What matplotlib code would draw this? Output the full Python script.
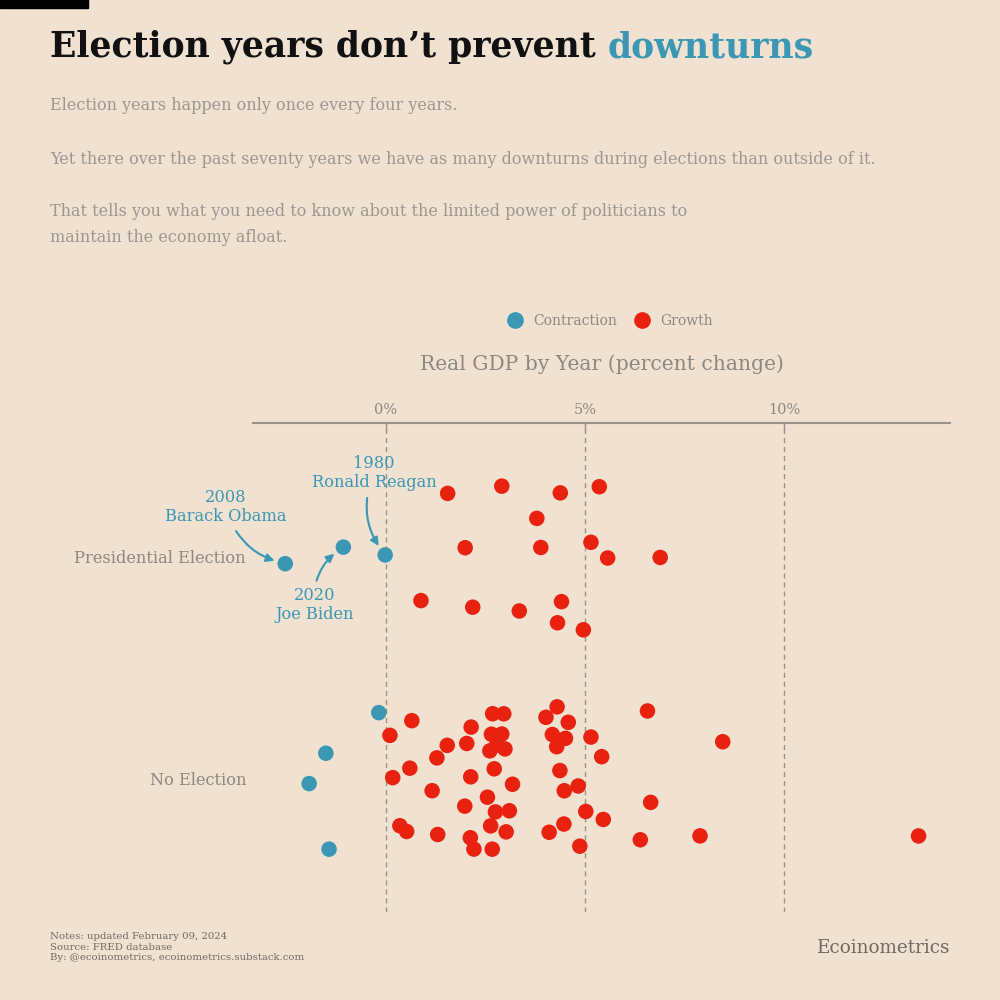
import numpy as np
import matplotlib.pyplot as plt
from matplotlib.lines import Line2D

# Real GDP growth (percent change)
pres_growth = [-2.53, -1.07, -0.02, 4.96, 3.89, 2.18, 4.38, 1.55, 3.35, 5.36,
               6.89, 1.99, 4.41, 0.88, 3.79, 5.57, 2.91, 4.31, 5.15]
noelec_growth = [-1.93, -1.43, -1.51, -0.18, 0.35, 0.10, 0.60, 0.17, 0.65, 0.52,
                 1.16, 1.30, 1.54, 1.28, 2.63, 2.96, 2.72, 1.98, 2.14, 2.78,
                 3.18, 2.55, 2.67, 2.12, 3.02, 2.91, 2.61, 2.68, 3.10, 2.13,
                 2.21, 2.03, 2.75, 2.65, 2.99, 4.29, 4.48, 4.87, 4.58, 4.10,
                 4.37, 5.46, 5.15, 4.83, 5.42, 4.18, 4.47, 4.02, 4.51, 5.02,
                 4.30, 6.57, 6.65, 6.39, 7.89, 8.46, 13.38]
categories = ['Presidential Election', 'No Election']
ticks = [0, 5, 10]
# index in pres_growth -> label
pres_labels = {0: '2008\nBarack Obama', 1: '2020\nJoe Biden', 2: '1980\nRonald Reagan'}

BG = '#f0e1d0'
TEAL = '#3b97b3'
RED = '#e8220e'
GREY = '#8e8882'
LIGHTGREY = '#9d9791'

plt.rcParams['font.family'] = ['DejaVu Serif']

fig = plt.figure(figsize=(10, 10), dpi=100, facecolor=BG)
ax = fig.add_axes([0.253, 0.088, 0.697, 0.489])
ax.set_facecolor(BG)
ax.set_xlim(-3.34, 14.17)
ax.set_ylim(1.606, -0.606)


def spread_jitter(vals, width=0.33, k=3, seed=3, narrow=()):
    # jitter that tries a few candidates and keeps the least crowded one
    rng = np.random.default_rng(seed)
    px_x, px_y = 39.8, 221.0
    placed = []
    out = []
    for j, v in enumerate(vals):
        w = 0.05 if j in narrow else width
        cands = rng.uniform(-w, w, k)
        if placed:
            p = np.array(placed)
            d = [np.min(np.hypot((p[:, 0] - v) * px_x, (p[:, 1] - c) * px_y)) for c in cands]
            c = cands[int(np.argmax(d))]
        else:
            c = cands[0]
        placed.append((v, c))
        out.append(c)
    return np.array(out)


pts = {}
for i, vals in enumerate([pres_growth, noelec_growth]):
    vals = np.array(vals)
    narrow = pres_labels.keys() if i == 0 else ()
    yy = i + spread_jitter(vals, seed=5 + i, narrow=narrow)
    cols = np.where(vals < 0, TEAL, RED)
    ax.scatter(vals, yy, s=125, c=cols, edgecolors='none', zorder=3)
    pts[i] = (vals, yy)

ax.xaxis.tick_top()
ax.set_xticks(ticks, [f'{t}%' for t in ticks])
ax.tick_params(axis='x', direction='in', length=5, width=1, color='#9b938b',
               labelsize=10.5, labelcolor=GREY, pad=4)
ax.set_yticks([0, 1], categories)
ax.tick_params(axis='y', length=0, pad=5, labelsize=11.7, labelcolor=GREY)
ax.grid(axis='x', color='#9b938b', linestyle=(0, (3.6, 2.9)), linewidth=1, zorder=1)

for s in ['left', 'right', 'bottom']:
    ax.spines[s].set_visible(False)
ax.spines['top'].set_color('#9b938b')
ax.spines['top'].set_linewidth(1.5)

# annotations for the election-year contractions
text_off = {0: (-43, 41), 1: (-21, -42), 2: (-8, 59)}
rads = {0: 0.3, 1: -0.3, 2: 0.3}
vals, yy = pts[0]
for idx, lab in pres_labels.items():
    ax.annotate(lab, xy=(vals[idx], yy[idx]), xytext=text_off[idx],
                textcoords='offset points',
                ha='center', va='center', color=TEAL, fontsize=11.7,
                linespacing=1.15, annotation_clip=False,
                arrowprops=dict(arrowstyle='-|>', color=TEAL, lw=1.5,
                                mutation_scale=12, shrinkA=3, shrinkB=8,
                                connectionstyle=f'arc3,rad={rads[idx]}'))

# legend
handles = [Line2D([], [], marker='o', ls='', color=TEAL, markersize=11, label='Contraction'),
           Line2D([], [], marker='o', ls='', color=RED, markersize=11, label='Growth')]
fig.legend(handles=handles, loc='center', bbox_to_anchor=(0.607, 0.679), ncol=2,
           frameon=False, fontsize=10, labelcolor=GREY, handletextpad=0.3,
           columnspacing=0.8)

fig.text(0.602, 0.636, 'Real GDP by Year (percent change)', ha='center', va='center',
         fontsize=14.6, color=GREY)

# title in two colours
fig.canvas.draw()
renderer = fig.canvas.get_renderer()
t1 = fig.text(0.05, 0.953, 'Election years don’t prevent ', fontsize=24.9,
              fontweight='bold', color='#111111', va='center', ha='left')
bb = t1.get_window_extent(renderer)
fig.text(bb.x1 / fig.bbox.width, 0.953, 'downturns', fontsize=24.9,
         fontweight='bold', color=TEAL, va='center', ha='left')

sub_lines = [(0.894, 'Election years happen only once every four years.'),
             (0.841, 'Yet there over the past seventy years we have as many downturns during elections than outside of it.'),
             (0.789, 'That tells you what you need to know about the limited power of politicians to'),
             (0.763, 'maintain the economy afloat.')]
for y, s in sub_lines:
    fig.text(0.05, y, s, fontsize=11.55, color=LIGHTGREY, va='center', ha='left')

fig.text(0.05, 0.053, 'Notes: updated February 09, 2024\nSource: FRED database\n'
         'By: @ecoinometrics, ecoinometrics.substack.com', fontsize=7.25,
         color='#6f6a65', va='center', ha='left', linespacing=1.25)
fig.text(0.95, 0.052, 'Ecoinometrics', fontsize=13.2, color='#6f6a65',
         va='center', ha='right')

# black tab in the corner
fig.patches.append(plt.Rectangle((0, 0.992), 0.088, 0.008, transform=fig.transFigure,
                                 color='black'))

fig.savefig('out.png', dpi=100, facecolor=BG)
